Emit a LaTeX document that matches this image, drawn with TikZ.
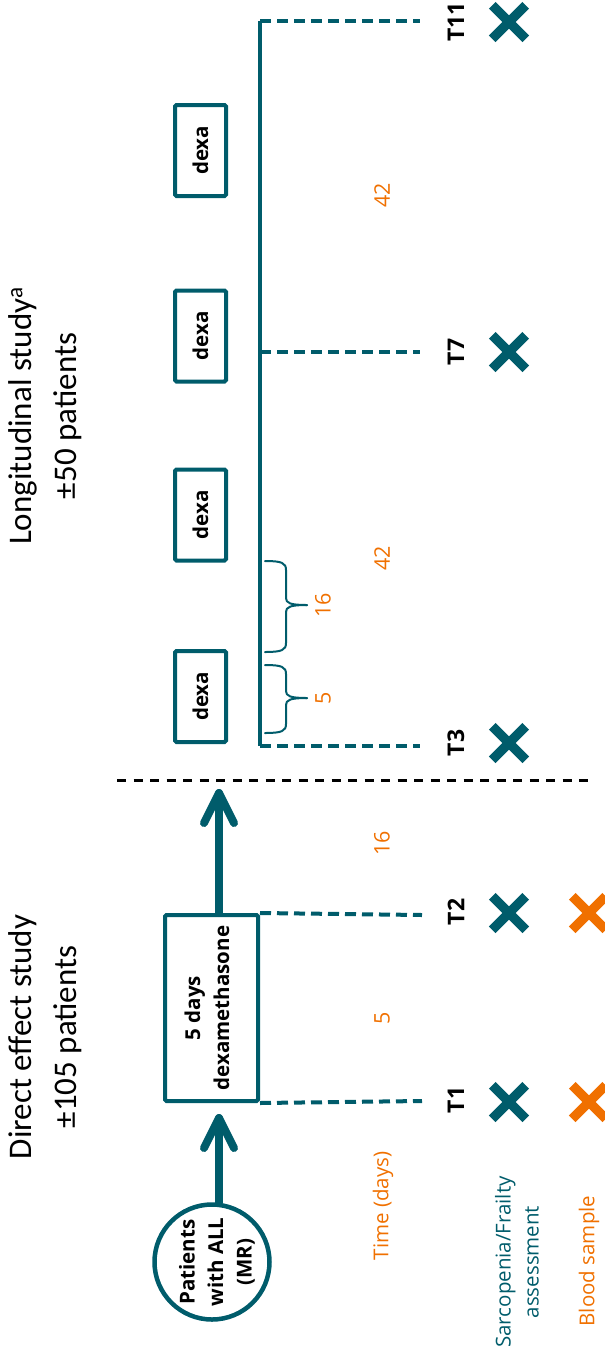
\documentclass[tikz,border=0pt]{standalone}
\usepackage{fontspec}
\usepackage{graphicx}
\setmainfont{Open Sans}
\newfontfamily\titlefont{Carlito}
\usetikzlibrary{shapes.misc,calc}
\definecolor{tealc}{RGB}{0,92,107}
\definecolor{orangec}{RGB}{240,112,0}
\tikzset{
  boxstyle/.style={draw=tealc, line width=4pt, rounded corners=1.5pt, inner sep=0pt},
  boxlbl/.style={font=\bfseries\fontsize{20.5}{29}\selectfont, rotate=90, align=center, inner sep=0pt},
  tlbl/.style={font=\bfseries\fontsize{23}{26}\selectfont, rotate=90, inner sep=0pt},
  numlbl/.style={font=\fontsize{21.5}{24}\selectfont, text=orangec, rotate=90, inner sep=0pt},
  leglbl/.style={font=\fontsize{20.5}{28}\selectfont, rotate=90, align=center, inner sep=0pt},
  titlelbl/.style={font=\titlefont\fontsize{33}{45}\selectfont, rotate=90, align=center, inner sep=0pt},
  tdash/.style={draw=tealc, line width=4pt, dash pattern=on 11pt off 6pt},
  sepdash/.style={draw=black, line width=3pt, dash pattern=on 9pt off 7.5pt},
  tline/.style={draw=tealc, line width=3.5pt},
  bigarrow/.style={draw=tealc, line width=8pt, line cap=round, line join=round},
  bracestyle/.style={draw=tealc, line width=2pt, line cap=round},
  xcross/.style={cross out, draw=#1, line width=9.5pt, minimum size=24pt, inner sep=0pt},
}
\newcommand{\mybrace}[3]{%
  \draw[bracestyle] (265,#1) .. controls (282,#1) and (286,#1+2) .. (286,#1+9) -- (286,#2-7) .. controls (286,#2-2) and (290,#2) .. (307,#2);
  \draw[bracestyle] (265,#3) .. controls (282,#3) and (286,#3-2) .. (286,#3-9) -- (286,#2+7) .. controls (286,#2+2) and (290,#2) .. (307,#2);
}
\begin{document}
\begin{tikzpicture}[x=1pt, y=-1pt]
\useasboundingbox (0,0) rectangle (605,1353);

% titles
\node[titlelbl] (title1) at (45,1037) {Direct effect study\\±105 patients};
\node[titlelbl] (title2) at (45,416) {Longitudinal study\textsuperscript{a}\\±50 patients};

% patients circle
\node[circle, draw=tealc, line width=4.5pt, minimum size=115pt, inner sep=0pt] (circ) at (212,1262) {};
\node[boxlbl, font=\bfseries\fontsize{20.5}{28.5}\selectfont] (circlbl) at (217,1262) {Patients\\with ALL\\(MR)};

% dexamethasone box
\node[boxstyle, minimum width=93pt, minimum height=186pt] (box) at (211.5,1008) {};
\node[boxlbl] (boxlbl) at (207,1008) {5 days\\dexamethasone};

% arrows
\coordinate (a1tip) at (219,1118);
\coordinate (a2tip) at (219,793);
\draw[bigarrow] (a1tip |- circ.north) -- (a1tip);
\draw[bigarrow] ($(a1tip)+(-15,30)$) -- (a1tip) -- ($(a1tip)+(15,30)$);
\draw[bigarrow] (a2tip |- box.north) -- (a2tip);
\draw[bigarrow] ($(a2tip)+(-15,30)$) -- (a2tip) -- ($(a2tip)+(15,30)$);

% separator
\coordinate (sepL) at (117,780);
\coordinate (sepR) at (590,780);
\draw[sepdash] (sepL) -- (sepR);

% direct effect time lines
\coordinate (t1end) at (422,1101);
\coordinate (t2end) at (422,915);
\draw[tdash] (box.south east) -- (t1end);
\draw[tdash] (box.north east) -- (t2end);

% longitudinal time line
\coordinate (c11) at (260,21);
\coordinate (c7) at (260,352);
\coordinate (c3) at (260,746);
\draw[tline] (c11) -- (c3);
\coordinate (t3end) at (420,746);
\coordinate (t7end) at (420,352);
\coordinate (t11end) at (420,21);
\draw[tdash] (c3) -- (t3end);
\draw[tdash] (c7) -- (t7end);
\draw[tdash] (c11) -- (t11end);

% dexa boxes
\foreach \yy/\nm in {150.5/d1, 336/d2, 515/d3, 696.5/d4}{
  \node[boxstyle, minimum width=51pt, minimum height=91pt] (\nm) at (200.5,\yy) {};
  \node[boxlbl] (\nm lbl) at (200.5,\yy) {dexa};
}

% braces
\mybrace{665}{698}{733}
\mybrace{561}{605}{652}
\node[numlbl] (b5) at (323,698) {5};
\node[numlbl] (b16) at (323,605) {16};

% time numbers
\node[numlbl] (n5) at (382,1018) {5};
\node[numlbl] (n16) at (382,843) {16};
\node[numlbl] (n42a) at (382,558) {42};
\node[numlbl] (n42b) at (382,195) {42};

% T labels
\node[tlbl] (T1) at (456,1100) {T1};
\node[tlbl] (T2) at (456,912) {T2};
\node[tlbl] (T3) at (456,743) {T3};
\node[tlbl] (T7) at (456,352) {T7};
\node[tlbl] (T11) at (456,22) {T11};

% crosses
\node[xcross=tealc] (x1) at (509,1102) {};
\node[xcross=tealc] (x2) at (509,913) {};
\node[xcross=tealc] (x3) at (509,743) {};
\node[xcross=tealc] (x7) at (509,352) {};
\node[xcross=tealc] (x11) at (509,22) {};
\node[xcross=orangec] (o1) at (589,1102) {};
\node[xcross=orangec] (o2) at (589,913) {};

% legend
\node[leglbl, text=orangec] (legtime) at (383,1206) {Time (days)};
\node[leglbl, text=tealc] (legsarc) at (517,1262) {Sarcopenia/Frailty\\assessment};
\node[leglbl, text=orangec] (legblood) at (589,1261) {Blood sample};
\end{tikzpicture}
\end{document}
